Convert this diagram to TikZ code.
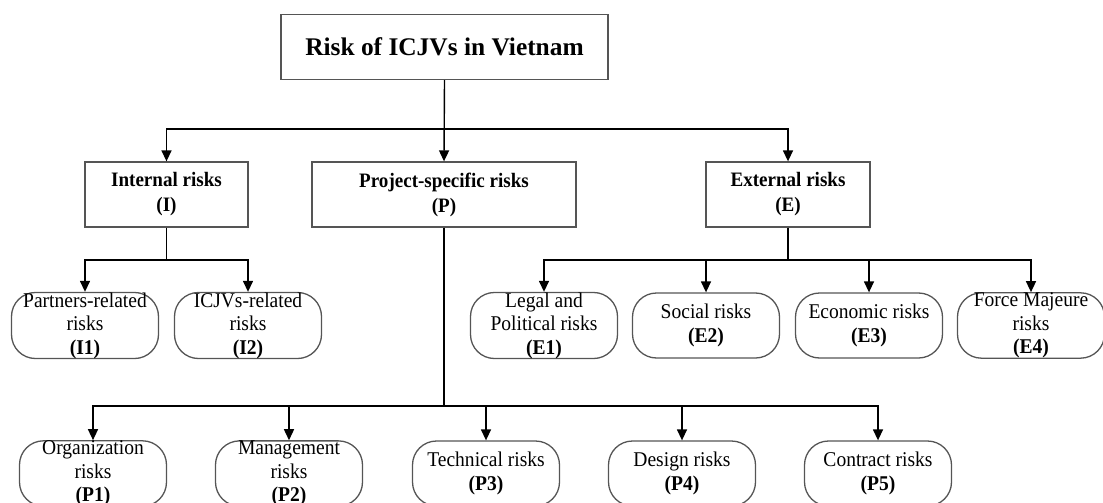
\documentclass[tikz,border=0pt]{standalone}
\usepackage{fontspec}
\setmainfont{Liberation Serif}
\newfontfamily\narrowserif[FakeStretch=0.93]{Liberation Serif}
\usetikzlibrary{arrows.meta}
\definecolor{edgegray}{RGB}{85,85,85}
\tikzset{
  sq/.style={draw=edgegray, line width=1.3pt, minimum height=65pt, align=center,
    inner sep=0pt, font=\narrowserif\fontsize{20.5}{25}\selectfont\bfseries},
  rb/.style={draw=edgegray, line width=1.3pt, rounded corners=24pt, minimum width=147pt,
    minimum height=65pt, align=center, inner sep=0pt,
    font=\narrowserif\fontsize{21}{23.5}\selectfont},
  link/.style={line width=1.4pt, draw=black},
  arr/.style={link, -{Triangle[length=11pt,width=10pt]}}
}
\begin{document}
\begin{tikzpicture}[x=1pt,y=-1pt]
  \useasboundingbox (0,0) rectangle (1103,503);
  \clip (0,0) rectangle (1103,503);

  % root
  \node[sq, minimum width=327pt, font=\fontsize{25.4}{30}\selectfont\bfseries]
    (root) at (444.5,47) {Risk of ICJVs in Vietnam};

  % second level
  \node[sq, minimum width=163pt] (int)  at (166.5,194.5) {Internal risks\\(I)};
  \node[sq, minimum width=264pt] (proj) at (444,194.5)   {Project-specific risks\\(P)};
  \node[sq, minimum width=164pt] (ext)  at (788,194.5)   {External risks\\(E)};

  % internal risks
  \node[rb] (i1) at (85,325.5)  {Partners-related\\risks\\\textbf{(I1)}};
  \node[rb] (i2) at (248,325.5) {ICJVs-related\\risks\\\textbf{(I2)}};

  % external risks
  \node[rb] (e1) at (544,325.5)  {Legal and\\Political risks\\\textbf{(E1)}};
  \node[rb] (e2) at (706,325.5)  {Social risks\\\textbf{(E2)}};
  \node[rb] (e3) at (869,325.5)  {Economic risks\\\textbf{(E3)}};
  \node[rb] (e4) at (1031,325.5) {Force Majeure\\risks\\\textbf{(E4)}};

  % project-specific risks
  \node[rb] (p1) at (93,473.5)  {Organization\\risks\\\textbf{(P1)}};
  \node[rb] (p2) at (289,473.5) {Management\\risks\\\textbf{(P2)}};
  \node[rb] (p3) at (486,473.5) {Technical risks\\\textbf{(P3)}};
  \node[rb] (p4) at (682,473.5) {Design risks\\\textbf{(P4)}};
  \node[rb] (p5) at (878,473.5) {Contract risks\\\textbf{(P5)}};

  % branching points
  \coordinate (broot) at (444.5,129);
  \coordinate (bint)  at (166.5,260);
  \coordinate (bext)  at (788,260);
  \coordinate (bproj) at (444,406);

  % connectors
  \draw[arr] (root.south) -- (proj.north);
  \draw[arr] (broot) -| (int.north);
  \draw[arr] (broot) -| (ext.north);

  \draw[link] (int.south) -- (bint);
  \draw[arr] (bint) -| (i1.north);
  \draw[arr] (bint) -| (i2.north);

  \draw[link] (ext.south) -- (bext);
  \foreach \n in {e1,e2,e3,e4} \draw[arr] (bext) -| (\n.north);

  \draw[link] (proj.south) -- (bproj);
  \foreach \n in {p1,p2,p3,p4,p5} \draw[arr] (bproj) -| (\n.north);
\end{tikzpicture}
\end{document}
